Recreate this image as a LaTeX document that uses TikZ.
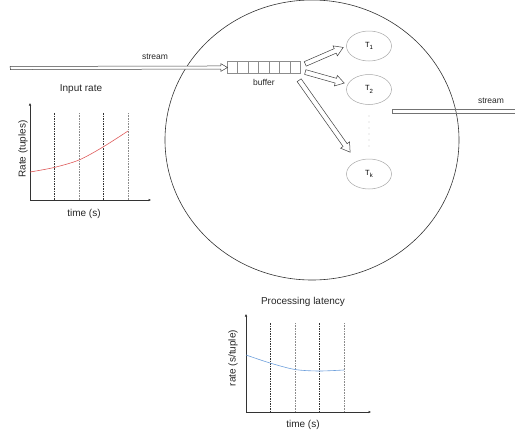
\documentclass[tikz,border=0pt]{standalone}
\usepackage{fontspec}
\setmainfont{Liberation Sans}
\usetikzlibrary{arrows.meta,shapes.geometric,shapes.arrows,calc}
\definecolor{ratered}{RGB}{222,90,90}
\definecolor{latblue}{RGB}{110,160,220}
\newcommand{\tasklbl}[1]{T\raisebox{-2.2pt}{\fontsize{6}{6}\selectfont #1}}
\begin{document}
\begin{tikzpicture}[x=1pt,y=-1pt,
  lbl/.style={font=\fontsize{10}{12}\selectfont, text=black!85, inner sep=0pt},
  smalllbl/.style={font=\fontsize{8.5}{10}\selectfont, text=black!85, inner sep=0pt},
  task/.style={ellipse, draw=black!35, line width=0.5pt, minimum width=45pt, minimum height=30pt, inner sep=0pt, font=\fontsize{7.5}{8}\selectfont},
  hollow/.style={to path={let \p1=(\tikztostart), \p2=(\tikztotarget),
     \n1={atan2(\y2-\y1,\x2-\x1)}, \n2={veclen(\x2-\x1,\y2-\y1)} in
     node[single arrow, draw=black!75, fill=white, line width=0.5pt, anchor=tail,
          rotate=\n1, minimum height=\n2, minimum width=1pt, #1] at (\p1) {}}},
  thinarrow/.style={hollow={inner sep=1.3pt, single arrow head extend=2.3pt, single arrow tip angle=60}},
  fatarrow/.style={hollow={inner sep=2.2pt, single arrow head extend=3pt, single arrow tip angle=64}},
  axis/.style={draw=black!80, line width=0.7pt, -{Latex[length=2.5pt,width=2.5pt]}},
  darkdash/.style={draw=black!80, line width=0.4pt, dash pattern=on 1.5pt off 1pt},
  greydot/.style={draw=black!45, line width=0.5pt, dash pattern=on 1pt off 0.6pt},
]
\useasboundingbox (0,0) rectangle (515,434);

% server
\node[ellipse, draw=black!80, line width=0.6pt, minimum width=294pt, minimum height=280pt, inner sep=0pt] (server) at (312,140) {};

% buffer
\node[draw=black!45, line width=0.5pt, minimum width=73pt, minimum height=12pt, inner sep=0pt, fill=white] (buf) at (264,67.5) {};
\foreach \i in {1,...,6}
  \draw[black!45, line width=0.5pt] ([xshift={\i*73/7}]buf.north west) -- ([xshift={\i*73/7}]buf.south west);
\node[smalllbl] (buflbl) at (264,82) {buffer};

% tasks
\node[task] (T1) at (369,46) {\tasklbl{1}};
\node[task] (T2) at (369,89.5) {\tasklbl{2}};
\node[task] (Tk) at (369,174) {\tasklbl{k}};
\foreach \yy in {116,122,...,148}
  \fill[black!60] (369,\yy) circle (0.45pt);

% input stream
\coordinate (src) at (10,68);
\path (src) to[thinarrow] (buf.west);
\node[smalllbl] (inlbl) at (155,57) {stream};

% buffer to tasks
\coordinate (b1) at (305,64);
\coordinate (e1) at (343,47.5);
\coordinate (b2) at (305,72);
\coordinate (e2) at (344,83);
\coordinate (b3) at (299,80);
\coordinate (e3) at (350,152);
\path (b1) to[fatarrow] (e1);
\path (b2) to[fatarrow] (e2);
\path (b3) to[fatarrow] (e3);

% output stream
\node[draw=black!55, line width=0.6pt, minimum width=140pt, minimum height=4.5pt, inner sep=0pt, anchor=west] (outs) at (392,111.5) {};
\node[smalllbl] (outlbl) at (491,101) {stream};

% Input rate chart
\node[lbl] (irt) at (81,89) {Input rate};
\coordinate (o1) at (30,200);
\coordinate (y1) at (30,103);
\coordinate (x1) at (151,200);
\draw[axis] (o1) -- (y1);
\draw[axis] (o1) -- (x1);
\draw[darkdash] (54,113) -- (54,200);
\draw[greydot] (79,113) -- (79,200);
\draw[darkdash] (103,113) -- (103,200);
\draw[greydot] (128,113) -- (128,200);
\draw[ratered, line width=0.6pt] plot[smooth] coordinates {(30,172) (54,167.5) (79,160) (103,147) (128,131)};
\node[lbl] (ixl) at (84,214) {time (s)};
\node[lbl, rotate=90] (iyl) at (23,149) {Rate (tuples)};

% Processing latency chart
\node[lbl] (plt) at (303,302) {Processing latency};
\coordinate (o2) at (246,412);
\coordinate (y2) at (246,314);
\coordinate (x2) at (371,412);
\draw[axis] (o2) -- (y2);
\draw[axis] (o2) -- (x2);
\draw[darkdash] (270,323) -- (270,412);
\draw[greydot] (295,323) -- (295,412);
\draw[darkdash] (319,323) -- (319,412);
\draw[greydot] (344,323) -- (344,412);
\draw[latblue, line width=0.6pt] plot[smooth] coordinates {(246,355) (270,363) (295,369.5) (319,371) (344,370)};
\node[lbl] (pxl) at (303,425) {time (s)};
\node[lbl, rotate=90] (pyl) at (233,358) {rate (s/tuple)};
\end{tikzpicture}
\end{document}
